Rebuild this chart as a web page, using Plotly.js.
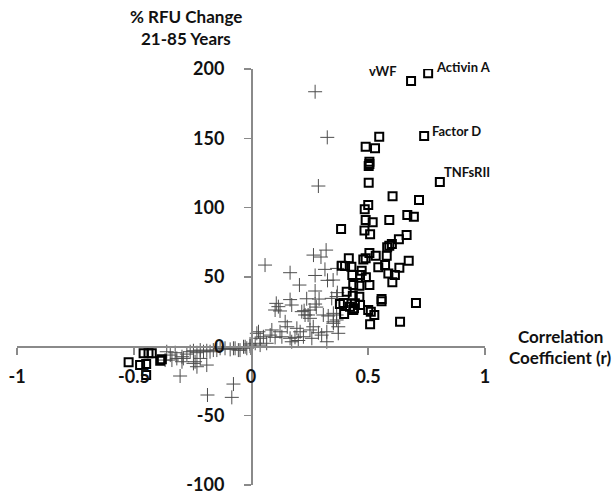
<!DOCTYPE html>
<html>
<head>
<meta charset="utf-8">
<script src="https://cdn.plot.ly/plotly-3.0.1.min.js"></script>
<style>html,body{margin:0;padding:0;background:#fff;}#chart{width:613px;height:497px;}</style>
</head>
<body>
<div id="chart"></div>
<script>
// Open squares (labelled proteins and others)
const squareX = [0.684,0.757,0.740,0.807,0.548,0.490,0.530,0.506,0.506,0.503,0.503,0.605,0.718,0.501,0.486,0.490,0.520,0.591,0.668,0.696,
  0.385,0.485,0.509,0.665,0.632,0.602,0.591,0.582,0.506,0.533,0.490,0.480,0.580,0.418,0.674,0.388,0.402,0.429,0.544,0.573,0.634,
  0.473,0.466,0.587,0.615,0.433,0.491,0.604,0.437,0.463,0.506,0.409,0.435,0.463,0.558,0.558,0.705,0.395,0.380,0.444,0.466,0.423,
  0.440,0.437,0.501,0.512,0.398,0.527,0.509,0.637,
  -0.523,-0.474,-0.448,-0.448,-0.459,-0.438,-0.424,-0.388,-0.381];
const squareY = [191.3,196.9,151.7,118.5,151.2,143.9,142.8,133.1,131.5,130.0,118.0,108.2,105.5,101.9,98.8,91.1,89.4,91.1,94.7,93.5,
  84.6,83.5,80.8,80.3,77.2,73.8,72.5,71.4,67.3,65.3,63.5,62.7,65.3,63.5,61.7,58.1,57.9,57.4,57.0,58.6,56.7,
  54.5,51.4,52.6,51.4,51.4,49.8,46.2,44.2,43.7,44.2,39.4,36.5,35.8,34.1,32.5,31.2,31.2,30.5,31.0,29.8,28.6,
  27.4,26.2,26.2,25.0,23.3,22.6,15.9,17.7,
  -11.5,-13.5,-12.8,-20.7,-5.0,-5.0,-5.0,-10.4,-9.4];

// Plus markers
const plusX = [0.274,0.326,0.288,0.060,0.321,0.267,0.299,0.167,0.316,0.274,0.327,0.207,0.274,0.369,0.345,0.366,0.238,0.291,
  0.108,0.117,0.124,0.103,0.167,0.174,0.274,0.279,0.217,0.227,0.231,0.252,0.252,0.244,0.309,0.330,0.352,0.366,0.146,0.155,
  0.089,0.082,0.103,0.124,0.132,0.196,0.210,0.188,0.202,0.224,0.252,0.266,0.288,0.302,0.324,0.032,0.039,0.053,0.018,0.039,
  -0.025,-0.075,-0.047,0.324,0.167,0.174,0.260,0.368,0.351,0.352,0.366,0.352,0.373,0.373,0.067,-0.004,0.025,
  -0.360,-0.345,-0.324,-0.367,-0.338,-0.317,-0.295,-0.274,-0.260,-0.246,-0.231,-0.217,-0.203,-0.189,-0.175,-0.161,-0.146,
  -0.132,-0.111,-0.089,-0.068,-0.054,-0.032,-0.018,-0.004,-0.295,-0.289,-0.231,-0.189,-0.239,-0.217,-0.303,-0.075,-0.186,
  -0.082,-0.246];
const plusY = [183.6,150.7,115.6,58.6,69.4,65.8,64.4,53.1,55.5,51.1,47.6,44.2,39.9,38.7,34.6,35.9,34.3,34.1,
  31.0,28.6,25.5,26.2,33.7,29.8,30.5,28.3,25.0,25.7,22.6,20.2,26.2,22.6,22.6,21.9,17.7,19.0,17.7,14.1,
  11.8,8.1,6.5,10.5,6.9,13.0,10.5,6.5,4.2,6.9,11.8,14.1,9.8,8.1,10.5,10.5,5.8,6.9,2.2,0.9,
  -0.3,-1.4,-2.7,3.3,5.8,3.3,5.8,56.2,47.8,23.8,22.6,16.6,14.1,9.4,2.2,1.7,9.4,
  -3.9,-6.3,-4.6,-9.9,-9.9,-8.7,-7.5,-5.6,-3.9,-3.2,-4.6,-2.7,-3.9,-3.2,-3.9,-2.7,-2.7,
  -1.4,-1.4,-2.2,-1.4,-2.7,-0.3,-1.4,0.2,-11.1,-8.7,-14.7,-13.5,-11.1,-8.7,-21.4,-27.2,-35.1,
  -36.8,-12.3];

const xTicks = [-1,-0.5,0,0.5,1];
const yTicks = [-100,-50,0,50,100,150,200];
const proteinLabels = ['vWF','Activin A','Factor D','TNFsRII'];

const FONT = 'Lato, "Open Sans", sans-serif';

// plot area: x -1..1 -> paper 0..1 ; y -100..200 -> paper 0..1
const px = v => (v + 1) / 2;
const py = v => (v + 100) / 300;
const labelX = [0.564, 0.908, 0.880, 0.923];
const labelY = [198.5, 201.5, 155.3, 125.5];

const traces = [
  {x: plusX, y: plusY, type: 'scatter', mode: 'markers',
   marker: {symbol: 'cross-thin-open', size: 10, color: '#4d4d4d', line: {color: '#4d4d4d', width: 1}}, hoverinfo: 'x+y'},
  {x: squareX, y: squareY, type: 'scatter', mode: 'markers',
   marker: {symbol: 'square-open', size: 8, color: '#000', line: {color: '#000', width: 2}}, hoverinfo: 'x+y'}
];

const annotations = proteinLabels.map((t, i) => ({
  x: px(labelX[i]), y: py(labelY[i]), xref: 'paper', yref: 'paper', text: '<b>' + t + '</b>', showarrow: false,
  xanchor: 'center', yanchor: 'middle', font: {family: FONT, size: 13, color: '#111'}
}));
const titleFont = {family: FONT, size: 17, color: '#111'};
annotations.push({xref: 'paper', yref: 'paper', x: 0.361, y: 1.127, xanchor: 'center', yanchor: 'middle',
  text: '<b>% RFU Change</b>', showarrow: false, font: titleFont});
annotations.push({xref: 'paper', yref: 'paper', x: 0.361, y: 1.0745, xanchor: 'center', yanchor: 'middle',
  text: '<b>21-85 Years</b>', showarrow: false, font: titleFont});
annotations.push({xref: 'paper', yref: 'paper', x: 1.1613, y: 0.358, xanchor: 'center', yanchor: 'middle',
  text: '<b>Correlation</b>', showarrow: false, font: titleFont});
annotations.push({xref: 'paper', yref: 'paper', x: 1.1613, y: 0.3065, xanchor: 'center', yanchor: 'middle',
  text: '<b>Coefficient (r)</b>', showarrow: false, font: titleFont});

const layout = {
  width: 613, height: 497,
  margin: {l: 17, r: 128, t: 69, b: 12},
  paper_bgcolor: '#fff', plot_bgcolor: '#fff',
  showlegend: false,
  xaxis: {range: [-1, 1], tickvals: xTicks, ticktext: xTicks.map(String), anchor: 'free', position: 1/3,
    showline: true, linecolor: '#8a8a8a', linewidth: 1.5, ticks: 'outside', ticklen: 7, tickwidth: 1.5, tickcolor: '#8a8a8a',
    showgrid: false, zeroline: false, ticklabelstandoff: 7,
    tickfont: {family: FONT, size: 18, color: '#111', weight: 'bold'}},
  yaxis: {range: [-100, 200], tickvals: yTicks, ticktext: yTicks.map(String), anchor: 'free', position: 0.5,
    showline: true, linecolor: '#8a8a8a', linewidth: 1.5, ticks: 'outside', ticklen: 7, tickwidth: 1.5, tickcolor: '#8a8a8a',
    showgrid: false, zeroline: false, ticklabelstandoff: 16,
    tickfont: {family: FONT, size: 18, color: '#111', weight: 'bold'}},
  annotations: annotations
};

Plotly.newPlot('chart', traces, layout, {displayModeBar: false, staticPlot: true});
</script>
</body>
</html>
